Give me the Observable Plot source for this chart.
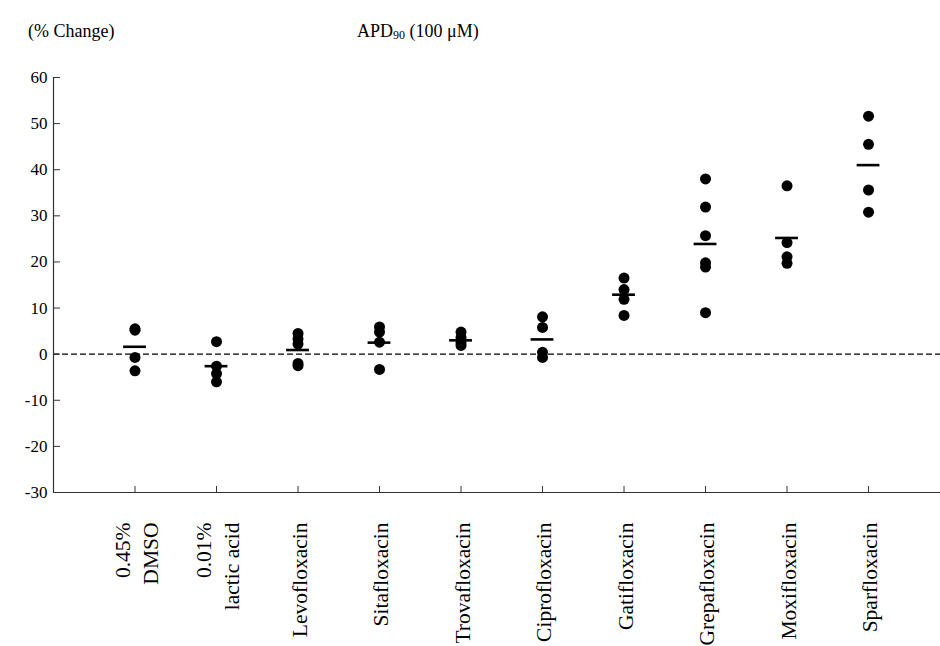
<!DOCTYPE html>
<html>
<head>
<meta charset="utf-8">
<script src="https://cdn.jsdelivr.net/npm/d3@7"></script>
<script src="https://cdn.jsdelivr.net/npm/@observablehq/plot@0.6"></script>
<style>
  body { margin: 0; background: #fff; font-family: "Liberation Serif", "Times New Roman", serif; }
  #head { position: relative; height: 60px; width: 940px; font-size: 18px; color: #000; }
  #head span { position: absolute; top: 21px; white-space: nowrap; }
  #head sub { font-size: 12px; vertical-align: -2px; }
  #chart svg text { font-family: "Liberation Serif", "Times New Roman", serif; }
</style>
</head>
<body>
<div id="head">
  <span style="left:28px">(% Change)</span>
  <span style="left:357px">APD<sub>90</sub> (100 μM)</span>
</div>
<div id="chart"></div>
<script>
const categories = ["0.45%\nDMSO", "0.01%\nlactic acid", "Levofloxacin", "Sitafloxacin", "Trovafloxacin",
  "Ciprofloxacin", "Gatifloxacin", "Grepafloxacin", "Moxifloxacin", "Sparfloxacin"];
const dmso = [5.5, 5.2, -0.7, -3.6];
const lactic = [2.7, -2.6, -4.2, -6.0];
const levo = [4.5, 3.3, 2.2, -2.0, -2.5];
const sita = [5.9, 4.8, 2.6, -3.3];
const trova = [4.8, 3.6, 2.5, 1.9];
const cipro = [8.1, 5.8, 0.4, -0.7];
const gati = [16.5, 14.0, 11.9, 8.4];
const grepa = [38.0, 31.9, 25.7, 19.8, 18.9, 9.0];
const moxi = [36.5, 24.2, 21.1, 19.7];
const spar = [51.6, 45.5, 35.6, 30.8];
const means = [1.6, -2.6, 0.9, 2.5, 3.0, 3.2, 12.9, 23.9, 25.2, 41.0];
const yTicks = [-30, -20, -10, 0, 10, 20, 30, 40, 50, 60];

const series = [dmso, lactic, levo, sita, trova, cipro, gati, grepa, moxi, spar];
const points = series.flatMap((vals, i) => vals.map(v => ({pos: i + 1, value: v})));
const meanRows = means.map((m, i) => ({pos: i + 1, value: m}));
const labelRows = categories.map((c, i) => ({pos: i + 1, label: c}));
const tickPos = categories.map((c, i) => i + 1);

const font = "'Liberation Serif', 'Times New Roman', serif";
const chart = Plot.plot({
  width: 940,
  height: 586,
  marginLeft: 53,
  marginRight: 0,
  marginTop: 17,
  marginBottom: 154,
  style: {fontFamily: font, background: "#fff", color: "#000"},
  x: {domain: [0, 10.883], axis: null, label: null},
  y: {domain: [-30, 60], axis: null, label: null},
  marks: [
    Plot.ruleY([0], {stroke: "#000", strokeWidth: 1.4, strokeDasharray: "6,3"}),
    Plot.ruleX([0], {stroke: "#333", strokeWidth: 1.2}),
    Plot.ruleY([-30], {stroke: "#333", strokeWidth: 1.2}),
    Plot.axisY({ticks: yTicks, tickSize: 7, dx: 7, text: null, stroke: "#333", label: null}),
    Plot.axisY({ticks: yTicks, tickSize: 0, tickPadding: 6, tickFormat: d => String(d), fontSize: 17,
      fontFamily: font, fill: "#000", label: null}),
    Plot.axisX({ticks: tickPos, tickSize: 6, dy: -6, text: null, stroke: "#333", label: null}),
    Plot.dot(points, {x: "pos", y: "value", r: 5.5, fill: "#000", stroke: null}),
    Plot.ruleY(meanRows, {y: "value", x1: d => d.pos - 0.14, x2: d => d.pos + 0.14, stroke: "#000", strokeWidth: 2.6}),
    Plot.text(labelRows, {x: "pos", text: "label", frameAnchor: "bottom", dy: 30, rotate: -90,
      textAnchor: "end", lineAnchor: "middle", fontSize: 21.5, fontFamily: font, fill: "#000", lineHeight: 1.3})
  ]
});
document.getElementById("chart").appendChild(chart);
</script>
</body>
</html>
